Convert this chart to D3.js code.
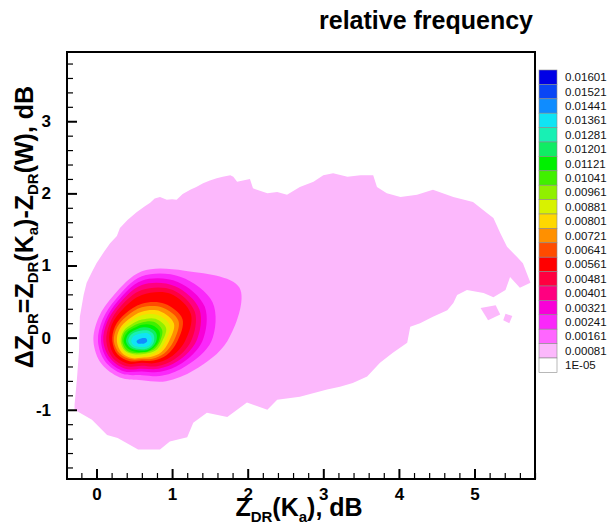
<!DOCTYPE html>
<html>
<head>
<meta charset="utf-8">
<script src="https://cdnjs.cloudflare.com/ajax/libs/d3/7.8.5/d3.min.js"></script>
<style>
  body { margin: 0; background: #fff; }
  svg { display: block; font-family: "Liberation Sans", Arial, sans-serif; }
</style>
</head>
<body>
<div id="chart"></div>
<script>
'use strict';

// legend, top to bottom (contour level = lower bound of the band)
var levelLabels = ['0.01601', '0.01521', '0.01441', '0.01361', '0.01281', '0.01201', '0.01121',
  '0.01041', '0.00961', '0.00881', '0.00801', '0.00721', '0.00641', '0.00561', '0.00481',
  '0.00401', '0.00321', '0.00241', '0.00161', '0.00081', '1E-05'];
var levelColors = ['#0000e6', '#0a46f5', '#0f8cff', '#10e4f4', '#18f0b4', '#10ec64', '#00f000',
  '#40f000', '#90f000', '#d8f200', '#ffd800', '#ff9000', '#ff4c00', '#ff0000', '#ff0040',
  '#ff0080', '#f800d8', '#fa28fa', '#ff66ff', '#fcb8fc', '#ffffff'];

var xTicks = [0, 1, 2, 3, 4, 5];
var yTicks = [-1, 0, 1, 2, 3];

// outline of the 0.00081 band (x dB, dy dB)
var outerEdge = [
  [-0.29, -0.93], [-0.26, -0.59], [-0.23, -0.17], [-0.22, 0.29], [-0.17, 0.59], [-0.13, 0.76],
  [-0.06, 0.91], [0.00, 1.03], [0.10, 1.19], [0.18, 1.31], [0.27, 1.41], [0.31, 1.52],
  [0.41, 1.63], [0.53, 1.74], [0.64, 1.82], [0.71, 1.87], [0.77, 1.93], [0.84, 1.95],
  [0.93, 1.91], [1.00, 1.92], [1.06, 1.91], [1.14, 1.99], [1.24, 2.05], [1.32, 2.09],
  [1.41, 2.14], [1.50, 2.18], [1.59, 2.21], [1.67, 2.23], [1.77, 2.25], [1.81, 2.23],
  [1.86, 2.16], [2.03, 2.20], [2.07, 2.07], [2.26, 2.00], [2.39, 2.02], [2.52, 1.98],
  [2.69, 2.09], [2.87, 2.16], [3.00, 2.25], [3.13, 2.28], [3.32, 2.23], [3.49, 2.25],
  [3.66, 2.25], [3.71, 2.09], [3.84, 2.00], [4.02, 1.95], [4.24, 1.98], [4.45, 2.05],
  [4.72, 1.95], [4.98, 1.88], [5.16, 1.73], [5.25, 1.66], [5.34, 1.45], [5.43, 1.26],
  [5.56, 1.12], [5.64, 1.03], [5.74, 0.76], [5.60, 0.69], [5.47, 0.84], [5.41, 0.66],
  [5.25, 0.56], [5.12, 0.62], [4.90, 0.66], [4.77, 0.59], [4.72, 0.48], [4.64, 0.38],
  [4.45, 0.29], [4.28, 0.20], [4.15, 0.15], [4.11, -0.07], [3.92, -0.21], [3.75, -0.35],
  [3.58, -0.54], [3.39, -0.63], [3.22, -0.68], [3.05, -0.72], [2.69, -0.82], [2.39, -0.86],
  [2.26, -1.00], [1.99, -0.90], [1.73, -1.10], [1.46, -1.04], [1.28, -1.18], [1.20, -1.38],
  [0.97, -1.44], [0.84, -1.55], [0.55, -1.55], [0.28, -1.39], [0.14, -1.35], [-0.06, -1.14],
  [-0.29, -1.00]
];
var outerIslands = [
  [[5.08, 0.41], [5.28, 0.45], [5.34, 0.32], [5.18, 0.24]],
  [[5.41, 0.33], [5.50, 0.30], [5.46, 0.20], [5.38, 0.24]]
];

// peak of the distribution and contour radii (dB) read along fixed directions
var peak = [0.60, -0.05];
var ringAngles = [0, 30, 60, 90, 120, 150, 180, 210, 240, 270, 300, 330];
var ringLevels = ['0.00161', '0.00241', '0.00321', '0.00401', '0.00481', '0.00561', '0.00641',
  '0.00721', '0.00801', '0.00881', '0.00961', '0.01041', '0.01121', '0.01201', '0.01281',
  '0.01361', '0.01441'];
var ringRadii = [
  [1.13, 1.49, 1.13, 0.97, 0.74, 0.66, 0.64, 0.62, 0.58, 0.54, 0.64, 0.80],
  [0.92, 1.08, 1.03, 0.90, 0.68, 0.60, 0.58, 0.56, 0.52, 0.47, 0.55, 0.68],
  [0.80, 0.96, 0.95, 0.84, 0.64, 0.56, 0.54, 0.52, 0.48, 0.42, 0.49, 0.61],
  [0.72, 0.88, 0.88, 0.78, 0.60, 0.53, 0.51, 0.48, 0.44, 0.38, 0.44, 0.55],
  [0.65, 0.81, 0.82, 0.71, 0.56, 0.49, 0.47, 0.45, 0.40, 0.34, 0.40, 0.50],
  [0.57, 0.75, 0.76, 0.64, 0.51, 0.46, 0.43, 0.41, 0.36, 0.30, 0.35, 0.44],
  [0.47, 0.62, 0.60, 0.52, 0.44, 0.41, 0.39, 0.37, 0.32, 0.27, 0.31, 0.38],
  [0.42, 0.56, 0.54, 0.47, 0.40, 0.38, 0.37, 0.34, 0.29, 0.25, 0.28, 0.34],
  [0.36, 0.49, 0.48, 0.41, 0.35, 0.34, 0.33, 0.31, 0.27, 0.23, 0.25, 0.30],
  [0.31, 0.43, 0.42, 0.36, 0.31, 0.31, 0.30, 0.28, 0.24, 0.21, 0.22, 0.26],
  [0.27, 0.37, 0.36, 0.30, 0.27, 0.28, 0.28, 0.26, 0.21, 0.18, 0.19, 0.23],
  [0.24, 0.31, 0.31, 0.26, 0.24, 0.26, 0.26, 0.24, 0.19, 0.16, 0.17, 0.20],
  [0.22, 0.27, 0.26, 0.23, 0.21, 0.23, 0.24, 0.21, 0.17, 0.15, 0.16, 0.18],
  [0.19, 0.22, 0.21, 0.19, 0.18, 0.20, 0.21, 0.18, 0.14, 0.13, 0.14, 0.16],
  [0.16, 0.18, 0.17, 0.15, 0.15, 0.17, 0.18, 0.15, 0.12, 0.11, 0.12, 0.14],
  [0.13, 0.14, 0.13, 0.11, 0.11, 0.13, 0.14, 0.12, 0.09, 0.08, 0.09, 0.11],
  [0.07, 0.07, 0.05, 0.04, 0.04, 0.05, 0.07, 0.06, 0.04, 0.03, 0.04, 0.05]
];

var width = 609, height = 530;
var plot = {left: 67, right: 535, top: 52, bottom: 479};

var svg = d3.select('#chart').append('svg')
    .attr('width', width)
    .attr('height', height);

var x = d3.scaleLinear().domain([-0.39, 5.8]).range([plot.left, plot.right]);
var y = d3.scaleLinear().domain([-1.96, 3.96]).range([plot.bottom, plot.top]);

function colorOf(label) {
    return levelColors[levelLabels.indexOf(label)];
}

svg.append('clipPath').attr('id', 'clip')
    .append('rect')
    .attr('x', plot.left).attr('y', plot.top)
    .attr('width', plot.right - plot.left).attr('height', plot.bottom - plot.top);

var field = svg.append('g').attr('clip-path', 'url(#clip)');

var edgeLine = d3.line()
    .x(function(d) { return x(d[0]); })
    .y(function(d) { return y(d[1]); })
    .curve(d3.curveLinearClosed);

field.append('path')
    .attr('d', edgeLine(outerEdge))
    .attr('fill', colorOf('0.00081'));

field.selectAll('path.island')
    .data(outerIslands)
    .enter().append('path')
    .attr('class', 'island')
    .attr('d', edgeLine)
    .attr('fill', colorOf('0.00081'));

var ringLine = d3.line()
    .x(function(d) { return x(d[0]); })
    .y(function(d) { return y(d[1]); })
    .curve(d3.curveCatmullRomClosed.alpha(0.5));

function ringPoints(radii) {
    return radii.map(function(r, i) {
        var a = ringAngles[i] * Math.PI / 180;
        return [peak[0] + r * Math.cos(a), peak[1] + r * Math.sin(a)];
    });
}

field.selectAll('path.ring')
    .data(ringLevels)
    .enter().append('path')
    .attr('class', 'ring')
    .attr('d', function(d, i) { return ringLine(ringPoints(ringRadii[i])); })
    .attr('fill', function(d) { return colorOf(d); });

// axes: ticks point inward, minor ticks every 0.2 dB
var minorX = d3.range(-0.2, 5.81, 0.2).filter(function(v) { return Math.abs(v - Math.round(v)) > 0.01; });
var minorY = d3.range(-1.8, 3.81, 0.2).filter(function(v) { return Math.abs(v - Math.round(v)) > 0.01; });
var plain = function(d) { return String(d); };

svg.append('g')
    .attr('transform', 'translate(0,' + plot.bottom + ')')
    .call(d3.axisBottom(x).tickValues(xTicks).tickSizeInner(-10).tickSizeOuter(0).tickPadding(9).tickFormat(plain));
svg.append('g')
    .attr('class', 'minor')
    .attr('transform', 'translate(0,' + plot.bottom + ')')
    .call(d3.axisBottom(x).tickValues(minorX).tickSizeInner(-6).tickSizeOuter(0).tickFormat(''));

svg.append('g')
    .attr('transform', 'translate(' + plot.left + ',0)')
    .call(d3.axisLeft(y).tickValues(yTicks).tickSizeInner(-10).tickSizeOuter(0).tickPadding(16).tickFormat(plain));
svg.append('g')
    .attr('class', 'minor')
    .attr('transform', 'translate(' + plot.left + ',0)')
    .call(d3.axisLeft(y).tickValues(minorY).tickSizeInner(-6).tickSizeOuter(0).tickFormat(''));

svg.selectAll('.domain').remove();
svg.selectAll('.tick line').attr('stroke', '#000').attr('stroke-width', 2);
svg.selectAll('.minor .tick line').attr('stroke-width', 1.2);
svg.selectAll('.tick text')
    .attr('font-family', '"Liberation Sans", Arial, sans-serif')
    .attr('font-size', 17)
    .attr('font-weight', 'bold')
    .attr('fill', '#000');

svg.append('rect')
    .attr('x', plot.left).attr('y', plot.top)
    .attr('width', plot.right - plot.left).attr('height', plot.bottom - plot.top)
    .attr('fill', 'none')
    .attr('stroke', '#000')
    .attr('stroke-width', 2);

// titles with subscripts
function richText(sel, parts, shift) {
    var down = false;
    parts.forEach(function(p) {
        var t = sel.append('tspan').text(p[0]);
        if (p[1]) {
            t.attr('font-size', 15);
            if (!down) { t.attr('dy', shift); down = true; }
        } else if (down) {
            t.attr('dy', -shift);
            down = false;
        }
    });
}

var xTitle = svg.append('text')
    .attr('x', 299).attr('y', 516)
    .attr('text-anchor', 'middle')
    .attr('font-size', 25)
    .attr('font-weight', 'bold');
richText(xTitle, [['Z'], ['DR', 1], ['(K'], ['a', 1], ['), dB']], 6);

var yTitle = svg.append('text')
    .attr('transform', 'translate(33,227) rotate(-90)')
    .attr('text-anchor', 'middle')
    .attr('font-size', 25)
    .attr('font-weight', 'bold');
richText(yTitle, [['\u0394Z'], ['DR', 1], ['=Z'], ['DR', 1], ['(K'], ['a', 1], [')-Z'], ['DR', 1], ['(W), dB']], 5);

svg.append('text')
    .attr('x', 533).attr('y', 29)
    .attr('text-anchor', 'end')
    .attr('font-size', 25)
    .attr('font-weight', 'bold')
    .text('relative frequency');

// legend
var legend = svg.append('g').attr('transform', 'translate(539,70)');
var rowH = 14.4;
legend.selectAll('rect')
    .data(levelLabels)
    .enter().append('rect')
    .attr('x', 0)
    .attr('y', function(d, i) { return i * rowH; })
    .attr('width', 18)
    .attr('height', rowH)
    .attr('fill', function(d, i) { return levelColors[i]; })
    .attr('stroke', '#8a8a8a')
    .attr('stroke-width', 0.6);
legend.selectAll('text')
    .data(levelLabels)
    .enter().append('text')
    .attr('x', 26)
    .attr('y', function(d, i) { return i * rowH + rowH / 2; })
    .attr('dy', '0.35em')
    .attr('font-size', 11.5)
    .attr('fill', '#111')
    .text(function(d) { return d; });
</script>
</body>
</html>
